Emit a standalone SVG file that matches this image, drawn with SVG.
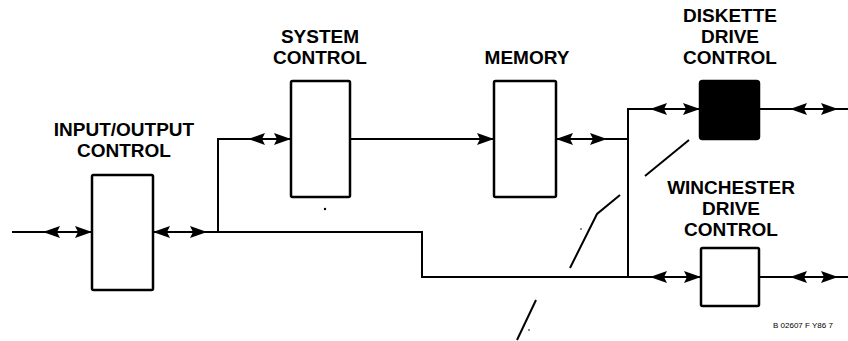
<svg xmlns="http://www.w3.org/2000/svg" width="848" height="341" viewBox="0 0 848 341">
<style>
.box{fill:#fff;stroke:#000;stroke-width:2.5}
.solid{fill:#000;stroke:#000;stroke-width:2.5}
.ln{fill:none;stroke:#000;stroke-width:2}
.lbl{font-family:"Liberation Sans",Arial,sans-serif;font-weight:bold;font-size:19px;fill:#000;text-anchor:middle}
.code{font-family:"Liberation Sans",Arial,sans-serif;font-size:8px;fill:#000}
</style>
<defs>
<path id="ah" d="M0,0 L-17,-6 L-14,0 L-17,6 Z" fill="#000"/>
</defs>
<rect width="848" height="341" fill="#fff"/>
<g id="connectors">
<path class="ln" d="M12,232 H92"/>
<path class="ln" d="M153,232 H422 V277 H701"/>
<path class="ln" d="M218,232 V139 H291"/>
<path class="ln" d="M350,139 H494"/>
<path class="ln" d="M556,139 H628"/>
<path class="ln" d="M628,277 V109 H700"/>
<path class="ln" d="M759,109 H848"/>
<path class="ln" d="M759,277 H848"/>
<use href="#ah" transform="translate(43,232) rotate(180)"/>
<use href="#ah" transform="translate(92,232)"/>
<use href="#ah" transform="translate(153,232) rotate(180)"/>
<use href="#ah" transform="translate(207,232)"/>
<use href="#ah" transform="translate(248,139) rotate(180)"/>
<use href="#ah" transform="translate(291,139)"/>
<use href="#ah" transform="translate(494,139)"/>
<use href="#ah" transform="translate(556,139) rotate(180)"/>
<use href="#ah" transform="translate(607,139)"/>
<use href="#ah" transform="translate(650,109) rotate(180)"/>
<use href="#ah" transform="translate(700,109)"/>
<use href="#ah" transform="translate(790,109) rotate(180)"/>
<use href="#ah" transform="translate(838,109)"/>
<use href="#ah" transform="translate(650,277) rotate(180)"/>
<use href="#ah" transform="translate(701,277)"/>
<use href="#ah" transform="translate(790,277) rotate(180)"/>
<use href="#ah" transform="translate(838,277)"/>
</g>
<g id="io">
<rect class="box" x="92" y="175" width="61" height="115" rx="1.5"/>
<text class="lbl" x="124" y="136">INPUT/OUTPUT</text>
<text class="lbl" x="124" y="157">CONTROL</text>
</g>
<g id="syscontrol">
<rect class="box" x="291" y="81" width="59" height="116" rx="1.5"/>
<text class="lbl" x="320" y="43">SYSTEM</text>
<text class="lbl" x="320" y="64">CONTROL</text>
</g>
<g id="memory">
<rect class="box" x="494" y="81" width="62" height="116" rx="1.5"/>
<text class="lbl" x="527" y="64">MEMORY</text>
</g>
<g id="diskette">
<rect class="solid" x="700" y="81" width="59" height="58" rx="2.5"/>
<text class="lbl" x="730" y="22">DISKETTE</text>
<text class="lbl" x="730" y="43">DRIVE</text>
<text class="lbl" x="730" y="64">CONTROL</text>
</g>
<g id="winchester">
<rect class="box" x="701" y="248" width="58" height="58" rx="1.5"/>
<text class="lbl" x="731" y="194">WINCHESTER</text>
<text class="lbl" x="731" y="215">DRIVE</text>
<text class="lbl" x="731" y="236">CONTROL</text>
</g>
<g id="breakline">
<path class="ln" d="M689,140 L645,176"/>
<path class="ln" d="M620,195 L597,214 L570,268"/>
<path class="ln" d="M536,300 L517,340"/>
<circle cx="325" cy="209" r="1.2" fill="#000"/>
<circle cx="581" cy="229" r="0.8" fill="#000"/>
<circle cx="529" cy="330" r="0.8" fill="#000"/>
</g>
<text class="code" x="773" y="328">B 02607 F Y86 7</text>
</svg>
